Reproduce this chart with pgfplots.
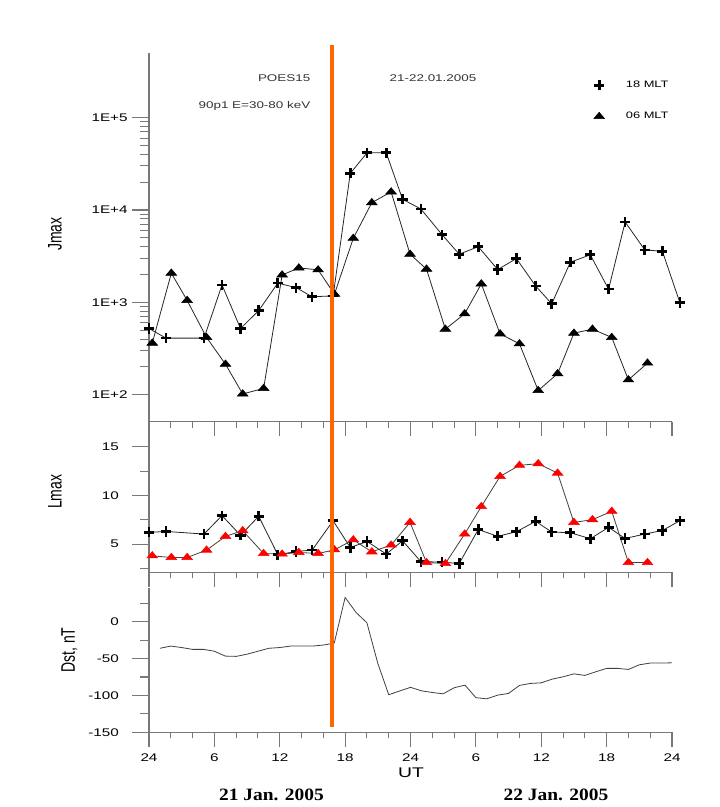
\documentclass[border=0pt]{standalone}
\usepackage{pgfplots}
\pgfplotsset{compat=1.18}
\usepackage{fontspec}
\setmainfont{Liberation Sans}
\newfontfamily\tf[FakeStretch=1.38]{Liberation Sans}
\newfontfamily\df[FakeStretch=1.12]{Liberation Serif}
\definecolor{axgray}{RGB}{120,120,120}
\definecolor{vorange}{RGB}{255,102,0}

\pgfplotstableread{
x y
0.0 521
1.56 410
5.05 410
6.7 1545
8.4 521
10.07 815
11.82 1615
13.5 1445
14.97 1150
16.9 1175
18.47 24900
20.02 41700
21.77 41700
23.27 13060
24.95 10260
26.9 5400
28.47 3320
30.22 4010
32.0 2265
33.72 2980
35.48 1507
36.96 964
38.67 2720
40.5 3270
42.18 1390
43.7 7410
45.5 3700
47.12 3570
48.72 995
}\jcross

\pgfplotstableread{
x y
0.3 362
2.05 2070
3.5 1050
5.28 417
7.02 214
8.6 102
10.52 117
12.22 1980
13.75 2360
15.52 2250
17.02 1227
18.75 4940
20.45 12000
22.22 15700
23.96 3320
25.47 2290
27.2 513
28.97 752
30.5 1585
32.22 456
34.0 356
35.72 111
37.5 169
39.0 464
40.7 513
42.47 417
44.0 145
45.75 220
}\jtri

\pgfplotstableread{
x y
0.0 6.2
1.56 6.3
5.05 6.03
6.7 7.93
8.4 5.9
10.07 7.86
11.82 3.9
13.5 4.24
14.97 4.38
16.9 7.4
18.47 4.65
20.02 5.27
21.77 3.97
23.27 5.34
24.95 3.2
26.9 3.14
28.47 3.0
30.22 6.5
32.0 5.8
33.72 6.27
35.48 7.34
36.96 6.24
38.67 6.17
40.5 5.55
42.18 6.72
43.7 5.58
45.5 6.03
47.12 6.4
48.72 7.4
}\lcross

\pgfplotstableread{
x y
0.3 3.79
2.05 3.62
3.5 3.62
5.28 4.38
7.02 5.79
8.6 6.38
10.52 4.03
12.22 3.97
13.75 4.14
15.52 4.03
17.02 4.41
18.75 5.44
20.45 4.2
22.22 4.9
23.96 7.23
25.47 3.1
27.2 3.0
28.97 6.03
30.5 8.86
32.22 11.96
34.0 13.1
35.72 13.27
37.5 12.3
39.0 7.23
40.7 7.51
42.47 8.37
44.0 3.1
45.75 3.1
}\ltri

\pgfplotstableread{
x y
1 -36
2 -33
3 -35
4 -37.5
5 -37.5
6 -40
7 -46.6
8 -47
9 -44
10 -40
11 -36
12 -35
13 -33
14 -33
15 -33
16 -31.6
17 -29
18 33
19 12.7
20 -1.4
21 -56.5
22 -99
23 -94
24 -89
25 -93.7
26 -96
27 -97.8
28 -89.6
29 -86
30 -103
31 -104.6
32 -99.6
33 -97.3
34 -86.4
35 -83.7
36 -82.9
37 -77.9
38 -74.7
39 -70.7
40 -72.8
41 -67.9
42 -63.3
43 -63.3
44 -64.7
45 -58.4
46 -56.1
47 -56.1
48 -55.7
}\dst

\pgfplotsset{
  panel/.style={
    scale only axis,
    width=392.25pt,
    xmin=0, xmax=48,
    clip=false,
    axis x line*=bottom,
    axis y line*=left,
    axis line style={axgray, line width=0.9pt},
    tick style={axgray, line width=0.8pt},
    tick align=outside,
    major tick length=12.5pt,
    minor tick length=6.5pt,
    x tick style={/pgfplots/major tick length=11pt,/pgfplots/minor tick length=4.5pt},
    xtick={0,6,...,48},
    minor xtick={2,4,8,10,14,16,20,22,26,28,32,34,38,40,44,46},
    ticklabel style={font=\tf\fontsize{8.3}{10}\selectfont},
  },
  crossp/.style={draw=black!85, line width=0.6pt, mark=+, mark size=3.8pt,
    mark options={line width=2pt, black}},
  trip/.style={draw=black!85, line width=0.6pt, mark=triangle*, mark size=3.2pt,
    mark options={xscale=1.45, fill=black, draw=black, line width=0.4pt}},
  redtrip/.style={draw=black!75, line width=0.6pt, mark=triangle*, mark size=3.2pt,
    mark options={xscale=1.45, fill=red, draw=red, line width=0.4pt}},
}

\begin{document}
\begin{tikzpicture}
\useasboundingbox (0,0) rectangle (540pt,-605.25pt);

% top panel
\begin{axis}[panel,
  at={(111.75pt,-316.3pt)}, anchor=south west,
  height=276.5pt,
  ymode=log, ymin=51, ymax=5e5,
  ytick={100,1000,10000,100000},
  yticklabels={1E+2,1E+3,1E+4,1E+5},
  xticklabels={},
  legend style={at={(rel axis cs:0.85,0.932)}, anchor=north west, draw=none, fill=none,
    font=\tf\fontsize{7}{8}\selectfont, row sep=13pt, inner sep=0pt,
    /tikz/every odd column/.append style={column sep=14pt}},
  legend image code/.code={\draw[#1] plot[only marks] coordinates {(0.15cm,0cm)};},
  legend cell align=left,
]
\addplot[crossp] table {\jcross};
\addlegendentry{18 MLT}
\addplot[trip] table {\jtri};
\addlegendentry{06 MLT}
\coordinate (otop) at (axis cs:16.8,5e5);
\end{axis}

% middle panel
\begin{axis}[panel,
  at={(111.75pt,-429.2pt)}, anchor=south west,
  height=112.95pt,
  ymin=2.1, ymax=17.59,
  ytick={5,10,15}, yticklabels={5,10,15},
  minor ytick={2.5,7.5,12.5},
  yticklabel style={xshift=-6.5pt},
  xticklabels={},
]
\addplot[crossp] table {\lcross};
\addplot[redtrip] table {\ltri};
\end{axis}

% bottom panel
\begin{axis}[panel,
  at={(111.75pt,-549.2pt)}, anchor=south west,
  height=108.2pt,
  ymin=-150, ymax=45.8,
  ytick={-150,-100,-50,0}, yticklabels={-150,-100,-50,0},
  minor ytick={-125,-75,-25,25},
  yticklabel style={xshift=-6.5pt},
  xticklabels={24,6,12,18,24,6,12,18,24},
]
\addplot[draw=black!75, line width=0.6pt, mark=none] table {\dst};
\coordinate (obot) at (axis cs:16.8,-143);
\end{axis}

\draw[vorange, line width=2.5pt] ([yshift=6pt]otop) -- (obot);

% texts
\node[anchor=east, font=\tf\fontsize{7.3}{9}\selectfont, text=black!80] at (236.25pt,-58.5pt) {POES15};
\node[anchor=east, font=\tf\fontsize{7.3}{9}\selectfont, text=black!80] at (236.25pt,-79.3pt) {90p1 E=30-80 keV};
\node[font=\tf\fontsize{7.3}{9}\selectfont, text=black!80] at (324.75pt,-58.5pt) {21-22.01.2005};
\node[rotate=90, font=\fontsize{10.5}{12}\selectfont] at (41.25pt,-175.5pt) {\scalebox{1}[1.4]{Jmax}};
\node[rotate=90, font=\fontsize{10.5}{12}\selectfont] at (41.25pt,-368.8pt) {\scalebox{1}[1.4]{Lmax}};
\node[rotate=90, font=\fontsize{10.5}{12}\selectfont] at (52.1pt,-487.5pt) {\scalebox{1}[1.4]{Dst, nT}};
\node[font=\tf\fontsize{10.5}{12}\selectfont] at (308.25pt,-579.75pt) {UT};
\node[font=\df\bfseries\fontsize{13}{15}\selectfont] at (203.6pt,-595.9pt) {21 Jan. 2005};
\node[font=\df\bfseries\fontsize{13}{15}\selectfont] at (417pt,-595.9pt) {22 Jan. 2005};
\end{tikzpicture}
\end{document}
